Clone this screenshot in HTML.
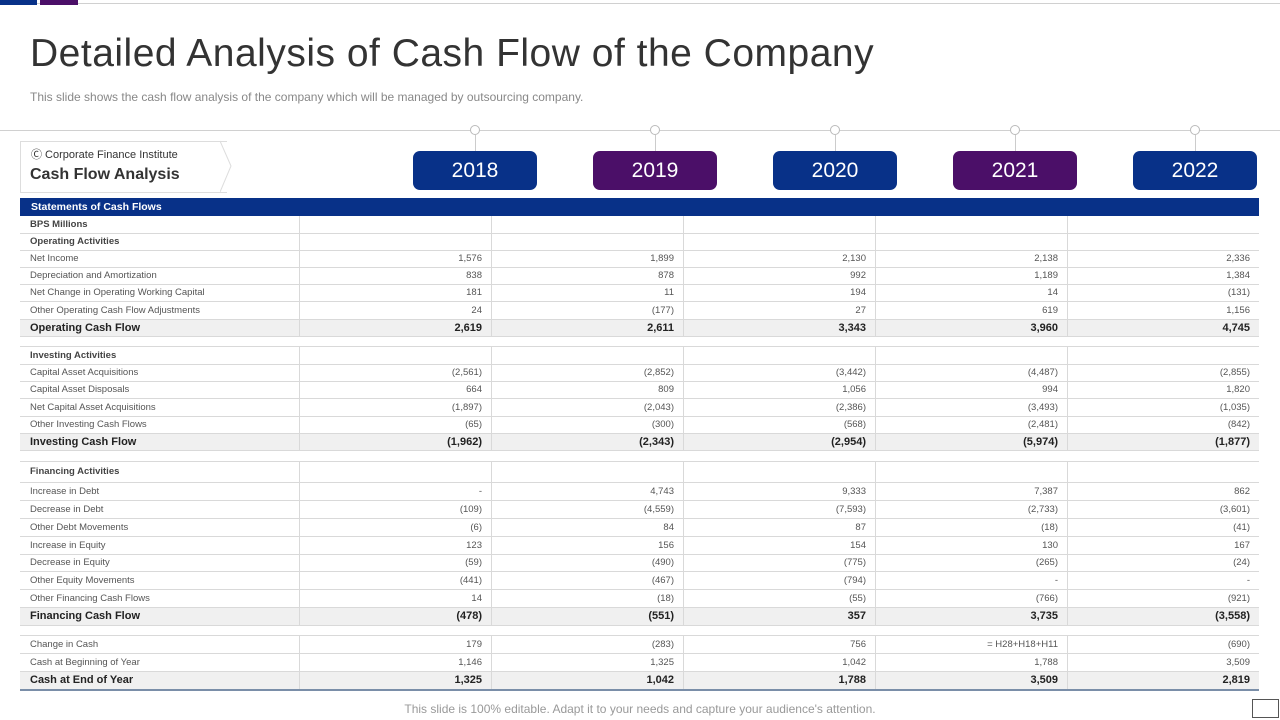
<!DOCTYPE html>
<html><head><meta charset="utf-8"><style>
body{margin:0;width:1280px;height:720px;position:relative;background:#fff;font-family:"Liberation Sans",sans-serif;overflow:hidden}
.abs{position:absolute}
.yr{position:absolute;top:151px;width:124px;height:39px;border-radius:7px;color:#fff;font-size:21px;text-align:center;line-height:39px}
.row{position:absolute;left:20px;width:1239px;border-bottom:1px solid #d9d9d9;font-size:9.5px;color:#555}
.row .c{position:absolute;top:0;height:100%;border-left:1px solid #d9d9d9;box-sizing:border-box;text-align:right;padding-right:9px}
.row .l{position:absolute;left:10px;top:0}
.row.b{background:#f0f0f0;font-weight:bold;font-size:11px;color:#222}
.row.h{color:#444;font-weight:bold}
</style></head><body>
<div class="abs" style="left:0;top:3px;width:1280px;height:1px;background:#d0d0d0"></div>
<div class="abs" style="left:0;top:0;width:37px;height:5px;background:#083188"></div>
<div class="abs" style="left:40px;top:0;width:38px;height:5px;background:#4b0f68"></div>
<div class="abs" style="left:30px;top:32px;font-size:39px;color:#333;letter-spacing:0.5px">Detailed Analysis of Cash Flow of the Company</div>
<div class="abs" style="left:30px;top:90px;font-size:12px;color:#888">This slide shows the cash flow analysis of the company which will be managed by outsourcing company.</div>
<div class="abs" style="left:0;top:130px;width:1280px;height:1px;background:#d0d0d0"></div>
<div class="abs" style="left:20px;top:141px;width:206px;height:50px;border:1px solid #ddd;border-right:none;background:#fff"></div>
<svg class="abs" style="left:220px;top:140px" width="14" height="53"><polyline points="0,1 11,26 0,52" fill="#fff" stroke="#ddd"/></svg>
<div class="abs" style="left:31px;top:146px;font-size:11px;color:#333">Ⓒ Corporate Finance Institute</div>
<div class="abs" style="left:30px;top:166px;font-size:16px;font-weight:bold;color:#333">Cash Flow Analysis</div>
<div id="years"></div>
<div id="table"></div>
<div class="abs" style="left:0;width:1280px;text-align:center;top:702px;font-size:12px;color:#999">This slide is 100% editable. Adapt it to your needs and capture your audience's attention.</div>
<div class="abs" style="left:1252px;top:699px;width:25px;height:17px;border:1px solid #555"></div>
<script>
const years=["2018","2019","2020","2021","2022"];
const yearColors=["#083188","#4b0f68","#083188","#4b0f68","#083188"];
const labels=["BPS Millions","Operating Activities","Net Income","Depreciation and Amortization","Net Change in Operating Working Capital","Other Operating Cash Flow Adjustments","Operating Cash Flow","","Investing Activities","Capital Asset Acquisitions","Capital Asset Disposals","Net Capital Asset Acquisitions","Other Investing Cash Flows","Investing Cash Flow","","Financing Activities","Increase in Debt","Decrease in Debt","Other Debt Movements","Increase in Equity","Decrease in Equity","Other Equity Movements","Other Financing Cash Flows","Financing Cash Flow","","Change in Cash","Cash at Beginning of Year","Cash at End of Year"];
const kinds=["h","h","n","n","n","n","b","s","h","n","n","n","n","b","s","h","n","n","n","n","n","n","n","b","s","n","n","b"];
const v2018=["","","1,576","838","181","24","2,619","","","(2,561)","664","(1,897)","(65)","(1,962)","","","-","(109)","(6)","123","(59)","(441)","14","(478)","","179","1,146","1,325"];
const v2019=["","","1,899","878","11","(177)","2,611","","","(2,852)","809","(2,043)","(300)","(2,343)","","","4,743","(4,559)","84","156","(490)","(467)","(18)","(551)","","(283)","1,325","1,042"];
const v2020=["","","2,130","992","194","27","3,343","","","(3,442)","1,056","(2,386)","(568)","(2,954)","","","9,333","(7,593)","87","154","(775)","(794)","(55)","357","","756","1,042","1,788"];
const v2021=["","","2,138","1,189","14","619","3,960","","","(4,487)","994","(3,493)","(2,481)","(5,974)","","","7,387","(2,733)","(18)","130","(265)","-","(766)","3,735","","=  H28+H18+H11","1,788","3,509"];
const v2022=["","","2,336","1,384","(131)","1,156","4,745","","","(2,855)","1,820","(1,035)","(842)","(1,877)","","","862","(3,601)","(41)","167","(24)","-","(921)","(3,558)","","(690)","3,509","2,819"];
const series=[v2018,v2019,v2020,v2021,v2022];
const rowTops=[216,234,251,268,285,302,320,337,347,365,382,399,417,434,451,462,483,501,519,537,555,572,590,608,626,636,654,672,690];
const yb=document.getElementById('years');
years.forEach((y,i)=>{
  const cx=475+i*180;
  const c=document.createElement('div');c.className='abs';
  
  
  c.style.cssText=`left:${cx-5}px;top:125px;width:8px;height:8px;border:1px solid #bbb;border-radius:50%;background:#fff`;
  yb.appendChild(c);
  const s=document.createElement('div');s.className='abs';
  
  
  s.style.cssText=`left:${cx}px;top:135px;width:1px;height:16px;background:#ccc`;
  yb.appendChild(s);
  const b=document.createElement('div');b.className='yr';
  
  
  b.style.left=(cx-62)+'px';b.style.background=yearColors[i];b.textContent=y;
  yb.appendChild(b);
});
const tb=document.getElementById('table');
const hd=document.createElement('div');hd.className='abs';


hd.style.cssText='left:20px;top:198px;width:1239px;height:18px;background:#083188;color:#fff;font-weight:bold;font-size:10.5px;line-height:18px;text-indent:11px';
hd.textContent='Statements of Cash Flows';tb.appendChild(hd);
const colL=[299,491,683,875,1067];
labels.forEach((lab,i)=>{
  const top=rowTops[i],h=rowTops[i+1]-top;
  const r=document.createElement('div');
  r.className='row'+(kinds[i]=='b'?' b':kinds[i]=='h'?' h':'');
  
  
  r.style.top=top+'px';r.style.height=(h-1)+'px';r.style.lineHeight=(h-1)+'px';
  if(kinds[i]=='s'){r.style.background='#fff';}
  if(i==labels.length-1)r.style.borderBottom='2px solid #7a8ea8';
  if(kinds[i]!='s'){
    const l=document.createElement('span');l.className='l';l.textContent=lab;r.appendChild(l);
    colL.forEach((x,j)=>{
      const c=document.createElement('div');c.className='c';
      
      
      c.style.left=(x-20)+'px';c.style.width='192px';c.textContent=series[j][i];
      r.appendChild(c);
    });
  }
  tb.appendChild(r);
});
</script>
</body></html>
